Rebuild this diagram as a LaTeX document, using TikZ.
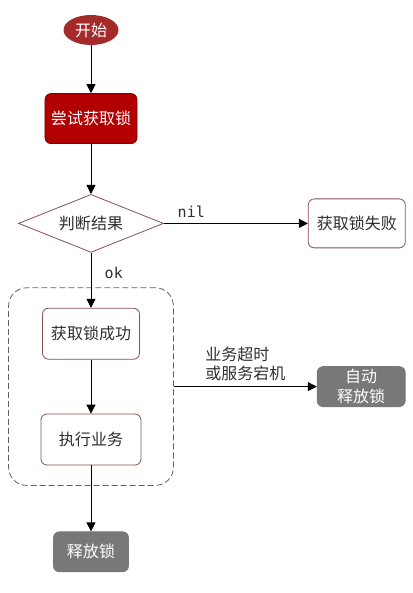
\documentclass[tikz,border=0pt]{standalone}
\usepackage{fontspec}
\setmainfont{Noto Sans CJK SC}
\setmonofont{DejaVu Sans Mono}
\usetikzlibrary{arrows.meta,positioning,shapes.geometric,fit}
\definecolor{startred}{HTML}{A52A2A}
\definecolor{lockred}{HTML}{B20000}
\definecolor{boxline}{HTML}{8A5050}
\definecolor{grayfill}{HTML}{787878}
\definecolor{txtgray}{HTML}{2E2E2E}

\begin{document}
\begin{tikzpicture}[
  font=\fontsize{16}{19}\selectfont,
  block/.style={draw=boxline, line width=0.8pt, rounded corners=6pt, minimum width=97pt, minimum height=51pt, align=center, text=txtgray, inner sep=0pt},
  redblock/.style={block, draw=lockred!70!black, fill=lockred, text=white, minimum width=92pt, minimum height=50pt},
  grayblock/.style={block, draw=grayfill, fill=grayfill, text=white, minimum height=40pt, font=\fontsize{16}{20}\selectfont},
  line/.style={-{Triangle[length=9pt,width=9pt]}, line width=0.8pt},
  lbl/.style={font=\ttfamily\fontsize{15}{18}\selectfont, text=txtgray},
  node distance=48pt and 144pt
]
% Nodes
\node[ellipse, fill=startred, text=white, minimum width=55pt, minimum height=30pt, inner sep=0pt] (start) {开始};
\node[redblock, below=48pt of start] (try) {尝试获取锁};
\node[diamond, draw=boxline, line width=0.8pt, aspect=2.5, minimum width=145pt, minimum height=58pt, inner sep=0pt, text=txtgray, below=50pt of try] (judge) {判断结果};
\node[block, right=144pt of judge, minimum height=49pt] (fail) {获取锁失败};
\node[block, below=55pt of judge] (succ) {获取锁成功};
\node[block, below=54pt of succ, minimum width=100pt] (exec) {执行业务};
\node[grayblock, below=66pt of exec, minimum width=75pt] (release) {释放锁};
\node[draw=gray!75!black, line width=0.8pt, dash pattern=on 6pt off 3pt, rounded corners=18pt, inner xsep=32pt, inner ysep=20pt, fit=(succ)(exec)] (group) {};
\node[grayblock, right=143pt of group, minimum width=88pt, align=center] (auto) {自动\\释放锁};

% Connections
\draw[line] (start) -- (try);
\draw[line] (try) -- (judge);
\draw[line] (judge) -- node[lbl, pos=0.19, above=2pt]{nil} (fail);
\draw[line] (judge) -- node[lbl, pos=0.36, right=10pt]{ok} (succ);
\draw[line] (succ) -- (exec);
\draw[line] (exec) -- (release);
\draw[line] (group) -- node[above=2pt, align=left, text=txtgray]{业务超时\\或服务宕机} (auto);

\useasboundingbox ([xshift=-91pt,yshift=30pt]start.center) rectangle ++(412pt,-593pt);
\end{tikzpicture}
\end{document}
